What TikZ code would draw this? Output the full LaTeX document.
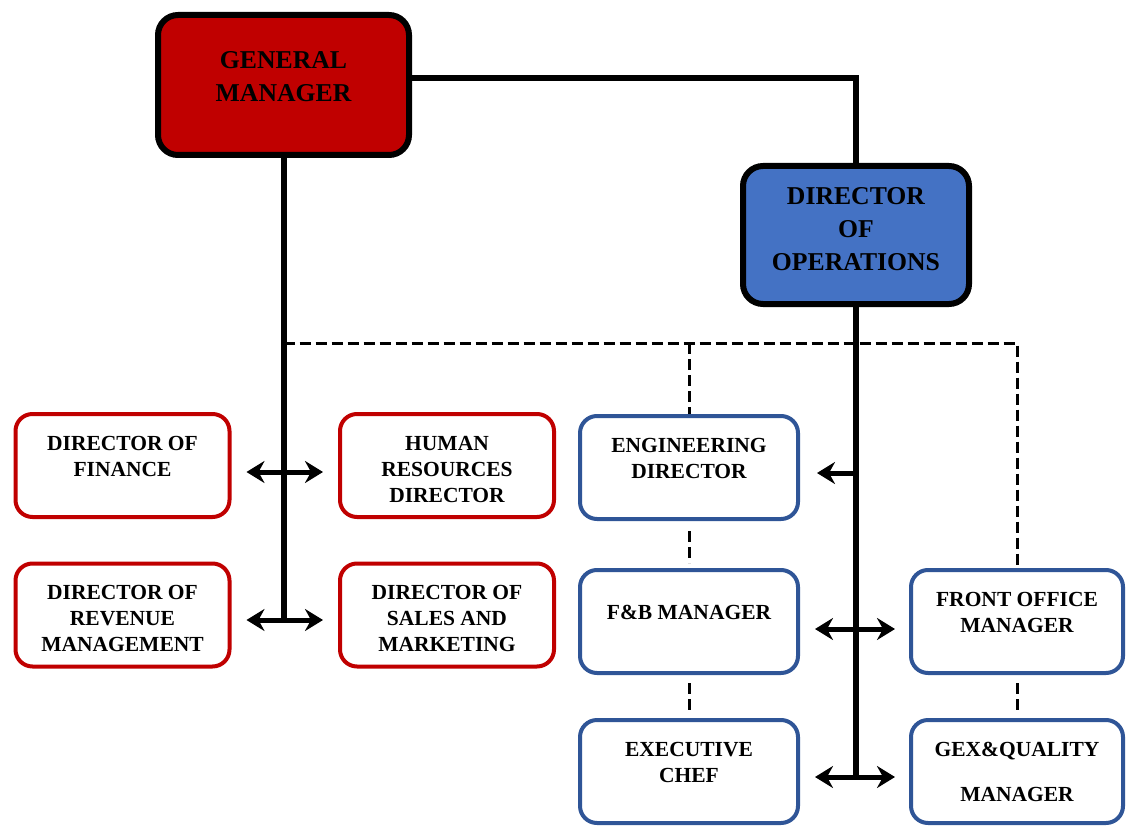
\documentclass[tikz,border=0pt]{standalone}
\usepackage{fontspec}
\setmainfont{Liberation Serif}
\usepackage{tikz}
\usetikzlibrary{arrows.meta}
\definecolor{gmred}{HTML}{C00000}
\definecolor{opsblue}{HTML}{4472C4}
\definecolor{rimred}{HTML}{C00000}
\definecolor{rimblue}{HTML}{2F5597}
\newcommand{\lift}{\rule{0pt}{22pt}}
\tikzset{
  chief/.style={rectangle, rounded corners=20pt, draw=black, fill=#1,
                line width=6pt, align=center, inner sep=0pt,
                font=\fontsize{25.7}{33}\selectfont\bfseries},
  post/.style={rectangle, rounded corners=17pt, draw=#1, fill=white,
               line width=4pt, align=center, inner sep=0pt,
               minimum width=214, minimum height=103,
               font=\fontsize{21.5}{26}\selectfont\bfseries},
  ln/.style={line width=6pt},
  dl/.style={line width=3pt, dash pattern=on 11pt off 5pt},
  ar/.style={-{Stealth[length=18pt,width=22pt,inset=6pt]}, line width=5pt},
  arb/.style={{Stealth[length=18pt,width=22pt,inset=6pt]}-{Stealth[length=18pt,width=22pt,inset=6pt]}, line width=5pt},
}

\begin{document}
\begin{tikzpicture}[x=1pt,y=-1pt]
  \useasboundingbox (0,0) rectangle (1126,826);

  % top level
  \node[chief=gmred, minimum width=251, minimum height=140] (gm) at (283.5,85) {GENERAL\\MANAGER\\[-16pt]~};
  \node[chief=opsblue, minimum width=226, minimum height=138] (ops) at (856,235) {DIRECTOR\\OF\\OPERATIONS\\[-21pt]~};

  % reports of the general manager
  \node[post=rimred] (fin) at (122.5,465.5) {\lift DIRECTOR OF\\FINANCE\\~};
  \node[post=rimred] (hr) at (447,465.5) {\lift HUMAN\\RESOURCES\\DIRECTOR};
  \node[post=rimred] (rev) at (122.5,615) {\lift DIRECTOR OF\\REVENUE\\MANAGEMENT};
  \node[post=rimred] (sales) at (447,615) {\lift DIRECTOR OF\\SALES AND\\MARKETING};

  % reports of operations
  \node[post=rimblue, minimum width=218] (eng) at (689,467.5) {\lift ENGINEERING\\DIRECTOR\\~};
  \node[post=rimblue, minimum width=218] (fnb) at (689,621.5) {\lift F\&B MANAGER\\~};
  \node[post=rimblue, minimum width=218] (chef) at (689,771.5) {\lift EXECUTIVE\\CHEF\\~};
  \node[post=rimblue, minimum width=212] (fo) at (1017,621.5) {\lift FRONT OFFICE\\MANAGER\\~};
  \node[post=rimblue, minimum width=212] (gex) at (1017,771.5) {GEX\&QUALITY\\[19pt]MANAGER};

  % solid lines
  \coordinate (gmfoot) at (283.5,620);
  \coordinate (opsfoot) at (856,778);
  \draw[ln] ([yshift=7pt]gm.east) -| (ops.north);
  \draw[ln] (gm.south) -- (gmfoot);
  \draw[ln] (ops.south) -- (opsfoot);

  % dashed lines
  \coordinate (dash0) at (283.5,343);
  \draw[dl] (dash0) -| (fo.north);
  \draw[dl] (dash0 -| eng.north) -- (eng.north);
  \draw[dl, shorten <=10pt, shorten >=5pt] (eng.south) -- (fnb.north);
  \draw[dl, shorten <=8pt, shorten >=5pt] (fnb.south) -- (chef.north);
  \draw[dl, shorten <=8pt, shorten >=5pt] (fo.south) -- (gex.north);

  % arrows
  \coordinate (engtap) at (856,473);
  \draw[arb] ([shift={(15pt,-6.5pt)}]fin.east) -- ([shift={(-15pt,-6.5pt)}]hr.west);
  \draw[arb] ([shift={(15pt,-5pt)}]rev.east) -- ([shift={(-15pt,-5pt)}]sales.west);
  \draw[ar] (engtap) -- ([shift={(17pt,-5.5pt)}]eng.east);
  \draw[arb] ([shift={(15pt,-7.5pt)}]fnb.east) -- ([shift={(-14pt,-7.5pt)}]fo.west);
  \draw[arb] ([shift={(15pt,-5.5pt)}]chef.east) -- ([shift={(-14pt,-5.5pt)}]gex.west);
\end{tikzpicture}
\end{document}
